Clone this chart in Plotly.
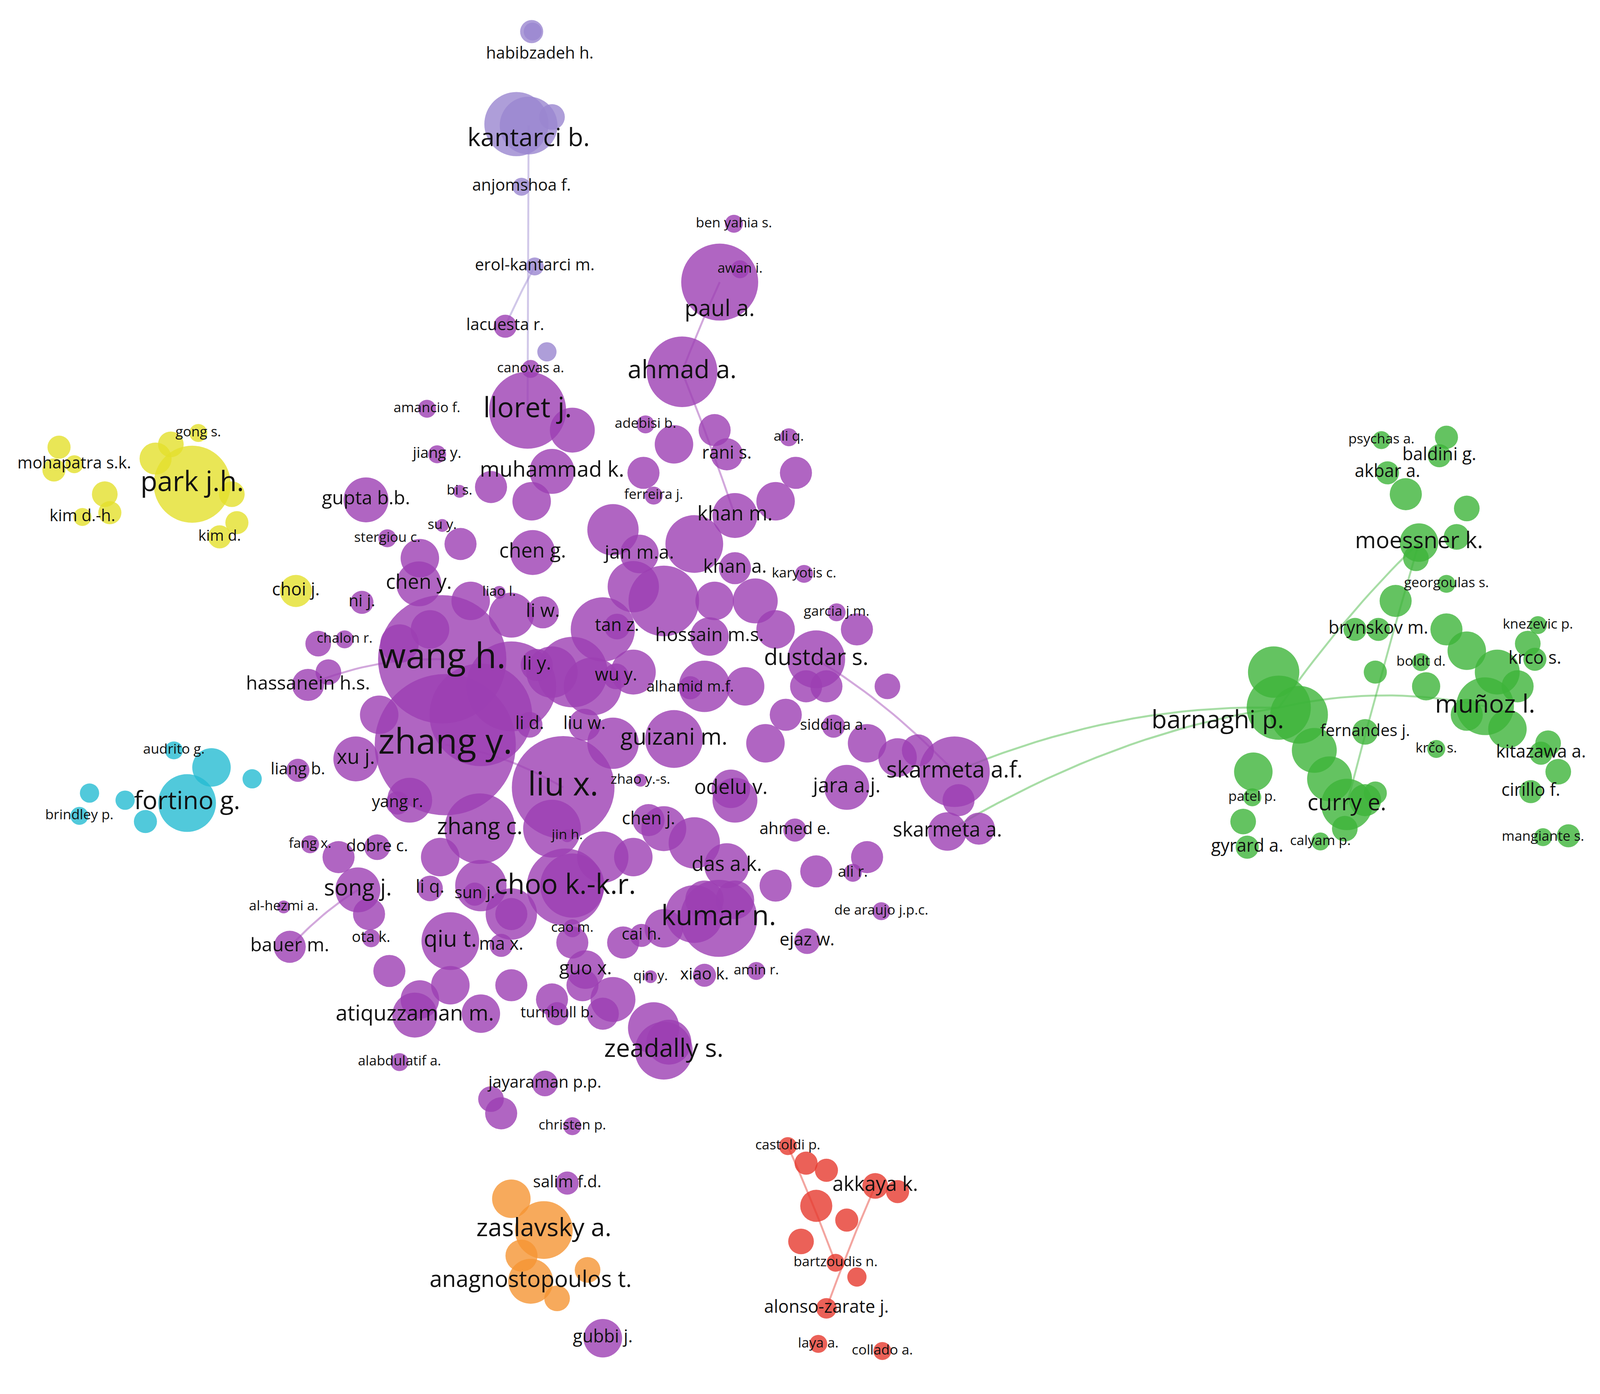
import plotly.graph_objects as go

W, H = 5723, 3568
S = W / 1568.0

colors = {"purple": "#9c3fb3", "lav": "#9a86d0", "yellow": "#e3e02c", "cyan": "#26bcd2",
          "orange": "#f59533", "red": "#e63a2e", "green": "#3db43a"}

lab_names = ["zhang y.","wang h.","liu x.","choo k.-k.r.","kumar n.","zeadally s.","lloret j.","ahmad a.","paul a.",
 "muhammad k.","zhang c.","song j.","qiu t.","atiquzzaman m.","guizani m.","dustdar s.","skarmeta a.f.","skarmeta a.",
 "jara a.j.","odelu v.","das a.k.","hossain m.s.","khan m.","khan a.","rani s.","jan m.a.","chen g.","chen y.","li w.",
 "li y.","li d.","liu w.","wu y.","tan z.","xu j.","gupta b.b.","hassanein h.s.","bauer m.","guo x.","chen j.",
 "jayaraman p.p.","turnbull b.","salim f.d.","christen p.","gubbi j.","alhamid m.f.","siddiqa a.","garcia j.m.",
 "karyotis c.","ferreira j.","adebisi b.","ali q.","ben yahia s.","awan i.","canovas a.","lacuesta r.","amancio f.",
 "jiang y.","bi s.","su y.","stergiou c.","liao l.","ni j.","chalon r.","liang b.","yang r.","fang x.","dobre c.",
 "al-hezmi a.","ota k.","li q.","sun j.","ma x.","cao m.","cai h.","qin y.","xiao k.","amin r.","ejaz w.","ali r.",
 "de araujo j.p.c.","ahmed e.","zhao y.-s.","jin h.","alabdulatif a.",
 "habibzadeh h.","kantarci b.","anjomshoa f.","erol-kantarci m.",
 "park j.h.","mohapatra s.k.","kim d.-h.","gong s.","kim d.","choi j.",
 "fortino g.","audrito g.","brindley p.",
 "zaslavsky a.","anagnostopoulos t.",
 "castoldi p.","akkaya k.","bartzoudis n.","alonso-zarate j.","laya a.","collado a.",
 "barnaghi p.","curry e.","fernandes j.","patel p.","gyrard a.","calyam p.","moessner k.","psychas a.","akbar a.",
 "baldini g.","georgoulas s.","brynskov m.","boldt d.","knezevic p.","krco s.","muñoz l.","krčo s.","kitazawa a.",
 "cirillo f.","mangiante s."]
lab_x = [435,432,551,553,704,650,516,668,705,540,469,349,440,405,660,800,936,929,830,716,712,695,720,720,712,626,521,409,531,
 525,518,572,603,604,347,357,300,282,573,635,533,545,555,560,590,676,817,820,788,640,632,773,719,725,519,494,417,
 427,449,432,378,488,353,336,290,388,302,368,276,362,420,464,490,560,628,637,690,741,791,836,864,779,627,555,390,
 528,517,510,523,
 186,70,78,192,213,288,
 181,168,75,
 532,519,
 772,858,819,810,802,865,
 1195,1322,1340,1229,1224,1296,1393,1356,1362,1413,1420,1353,1395,1510,1507,1458,1410,1513,1503,1515]
lab_y = [521,461,551,621,643,736,286,259,216,329,580,623,659,711,517,461,540,582,551,552,606,445,360,397,317,387,386,408,428,
 465,507,507,473,438,531,349,479,663,679,574,759,710,829,789,938,481,508,428,401,346,296,305,155,187,257,227,285,
 317,343,367,376,414,421,447,539,562,591,593,635,657,622,626,662,650,655,684,683,680,659,611,638,581,546,585,744,
 36,96,129,185,
 338,324,361,302,375,413,
 562,525,571,
 862,898,
 803,831,885,917,942,947,
 505,563,512,558,593,589,379,307,330,318,408,440,463,437,461,494,524,527,554,586]
lab_fs = [28,28,26,22,22,20,22,20,18,17,18,18,18,17,18,18,18,16,16,16,16,15,16,15,14,15,16,16,15,15,14,14,14,14,16,15,15,
 15,15,14,13,12,13,11,14,12,12,11,11,11,11,11,11,11,11,13,11,12,11,11,11,11,13,11,13,13,11,13,11,12,14,13,14,11,
 13,11,13,11,14,12,11,13,11,11,11,
 13,20,13,13,
 22,13,13,11,12,14,
 20,11,11,
 20,18,
 11,16,11,14,11,11,
 20,18,13,11,14,11,18,11,14,14,11,14,11,11,14,20,11,14,14,11]
lab_size = [110,100,80,60,60,45,60,55,60,35,55,35,45,35,45,45,55,30,35,30,35,30,35,25,25,30,35,35,25,25,20,25,20,20,35,35,25,
 25,30,25,20,18,18,14,30,18,18,14,14,14,14,14,14,14,14,18,14,14,10,10,14,10,18,14,18,18,14,20,10,14,20,18,18,14,
 18,10,18,14,20,14,14,18,10,10,14,
 14,45,14,14,
 60,14,14,14,18,25,
 45,14,14,
 45,35,
 14,20,14,16,14,14,
 50,40,20,14,18,14,30,14,18,18,14,18,14,14,18,45,14,18,18,14]
lab_cl = (["purple"]*85 + ["lav"]*4 + ["yellow"]*6 + ["cyan"]*3 + ["orange"]*2 + ["red"]*6 + ["green"]*20)
node_dy = {"paul a.": -20, "habibzadeh h.": -16, "kantarci b.": -10, "barnaghi p.": -10}
node_dx = {"barnaghi p.": 60, "habibzadeh h.": -7}

ex_x = [470,500,560,590,620,600,650,680,740,760,780,700,660,630,560,520,480,450,410,390,370,400,430,470,500,540,590,620,650,
 680,720,750,770,790,810,850,880,900,940,960,850,800,760,720,690,650,610,570,540,500,470,440,410,380,360,330,320,310,
 560,600,640,680,620,580,540,500,460,420,600,690,700,730,760,840,870,500,560,590,655,480,490,
 520,505,540,535,
 150,165,225,230,55,50,100,105,
 205,245,120,85,140,
 500,510,545,575,
 790,810,830,880,800,785,840,
 1250,1275,1290,1305,1340,1230,1220,1320,1350,1380,1420,1440,1430,1390,1370,1420,1440,1470,1490,1520,1530,1480,1440,1400,1350,1330,1500,1540]
ex_y = [500,480,470,440,410,370,420,380,420,350,330,300,310,330,300,350,340,380,390,450,500,560,600,620,640,580,600,600,580,
 590,560,520,500,480,480,520,530,525,560,580,600,610,620,630,630,650,660,690,700,690,710,690,700,680,640,600,470,450,
 620,700,720,640,470,480,470,430,420,440,520,480,420,480,440,440,480,640,660,710,730,770,780,
 20,85,80,245,
 320,310,345,365,312,328,345,358,
 537,545,560,555,575,
 840,880,910,890,
 815,820,855,835,845,870,895,
 470,500,525,545,560,540,575,580,555,345,305,355,375,390,420,440,455,470,480,520,540,510,500,480,470,440,450,585,430]
ex_s = [80,70,55,50,40,40,55,45,35,30,25,25,30,25,35,30,25,25,30,30,30,35,30,40,40,45,40,30,35,
 40,35,30,25,25,25,30,30,25,25,25,25,25,25,30,30,30,25,25,25,25,30,30,30,25,25,25,20,20,
 50,35,40,45,35,45,40,35,30,30,40,40,30,30,30,25,20,25,25,25,35,20,25,
 18,50,20,15,
 25,20,20,18,18,18,20,18,
 30,15,15,15,18,
 30,25,20,20,
 18,18,18,18,25,20,15,
 40,45,35,35,25,30,20,20,18,25,18,20,20,20,25,25,30,35,25,20,20,30,25,22,18,18,20,18,18]
ex_cl = (["purple"]*81 + ["lav"]*4 + ["yellow"]*8 + ["cyan"]*5 + ["orange"]*4 + ["red"]*7 + ["green"]*29)

edges = [("barnaghi p.","skarmeta a.f."),("barnaghi p.","skarmeta a."),("moessner k.","barnaghi p."),
         ("moessner k.","curry e."),("barnaghi p.","muñoz l."),("kantarci b.","lloret j."),
         ("erol-kantarci m.","lacuesta r."),("ahmad a.","khan m."),("song j.","bauer m."),
         ("hassanein h.s.","wang h."),("zhang y.","liu x."),("akkaya k.","alonso-zarate j."),
         ("bartzoudis n.","castoldi p."),("paul a.","ahmad a."),("dustdar s.","skarmeta a.f.")]

pos = {}
for n, x, y in zip(lab_names, lab_x, lab_y):
    pos[n] = (x + node_dx.get(n, 0), y + node_dy.get(n, 0))
cl_of = dict(zip(lab_names, lab_cl))

fig = go.Figure()
for a, b in edges:
    (x0, y0), (x1, y1) = pos[a], pos[b]
    mx, my = (x0 + x1) / 2, (y0 + y1) / 2 - 0.08 * abs(x1 - x0)
    xs, ys = [], []
    for i in range(21):
        t = i / 20
        xs.append((1-t)**2*x0 + 2*(1-t)*t*mx + t*t*x1)
        ys.append((1-t)**2*y0 + 2*(1-t)*t*my + t*t*y1)
    fig.add_trace(go.Scatter(x=xs, y=ys, mode="lines", line=dict(color=colors[cl_of[a]], width=5),
                             opacity=0.45, hoverinfo="skip", showlegend=False))

fig.add_trace(go.Scatter(x=ex_x, y=ex_y, mode="markers", showlegend=False,
    marker=dict(size=[s * S * 0.9 for s in ex_s], color=[colors[c] for c in ex_cl], opacity=0.8, line=dict(width=0))))
fig.add_trace(go.Scatter(x=[pos[n][0] for n in lab_names], y=[pos[n][1] for n in lab_names], mode="markers",
    showlegend=False, marker=dict(size=[s * S * 0.9 for s in lab_size], color=[colors[c] for c in lab_cl],
                                  opacity=0.8, line=dict(width=0))))
fig.add_trace(go.Scatter(x=lab_x, y=lab_y, mode="text", text=lab_names, showlegend=False,
    textfont=dict(family="Open Sans", size=[f * S * 0.88 for f in lab_fs], color="#111111")))

fig.update_layout(autosize=True, margin=dict(l=0, r=0, t=0, b=0), paper_bgcolor="white",
                  plot_bgcolor="white",
                  xaxis=dict(range=[0, 1568], visible=False),
                  yaxis=dict(range=[975, 0], visible=False))
fig.write_html("out.html", config={"responsive": True})
